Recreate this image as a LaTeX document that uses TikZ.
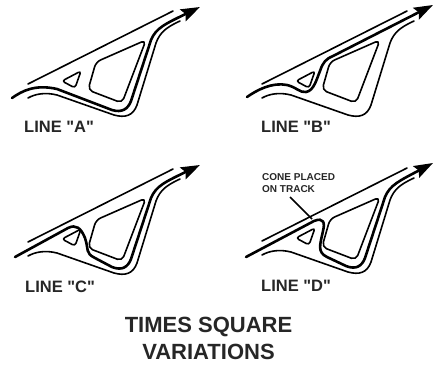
\documentclass[tikz,border=0pt]{standalone}
\usepackage{fontspec}
\newfontfamily\labelfont{Liberation Sans}
\usepackage{tikz}
\usetikzlibrary{arrows.meta}

\begin{document}
\begin{tikzpicture}[x=1pt,y=-1pt,
  every node/.style={inner sep=0pt,font=\labelfont\fontsize{16.5}{18}\selectfont\bfseries,text=black!85},
  edgeline/.style={black,line width=1.6pt,line cap=round,line join=round},
  racingline/.style={black,line width=2.6pt,line cap=round,-{Stealth[length=19pt,width=13pt,inset=3pt]}},
  trackbase/.pic={
    \draw[edgeline] (28,84) -- (173,11);
    \draw[edgeline] (28,98)
      .. controls (35,94) and (45,92) .. (57,95)
      -- (114,115)
      .. controls (125,118) and (133,116) .. (137,105)
      -- (156,43)
      .. controls (160,32) and (167,27) .. (180,21);
    \draw[edgeline,rounded corners=3pt] (62,81) -- (81,71) -- (75,88) -- cycle;
    \draw[edgeline,rounded corners=5pt] (96,62) -- (146,40) -- (122,103) -- (88,90) -- cycle;
  }]
  \useasboundingbox (0,0) rectangle (435,364);
  \pic at (0,0) {trackbase};
  \pic at (234,0) {trackbase};
  \pic at (0,158) {trackbase};
  \pic at (234,157) {trackbase};
  % line A
  \draw[racingline] (12,98)
    .. controls (22,91) and (35,84) .. (57,89)
    -- (112,110)
    .. controls (122,113) and (128,109) .. (131,101)
    -- (151,40)
    .. controls (156,28) and (165,24) .. (200,7);
  % line B
  \begin{scope}[shift={(234,0)}]
    \draw[racingline] (13,97)
      .. controls (23,90) and (38,82) .. (53,85)
      .. controls (62,87) and (66,93) .. (72,92)
      .. controls (80,91) and (83,78) .. (86,71)
      .. controls (89,62) and (92,59) .. (99,56)
      -- (199,5);
  \end{scope}
  % line C
  \begin{scope}[shift={(0,158)}]
    \draw[racingline] (15,99) -- (68,70)
      .. controls (76,66) and (81,70) .. (85,80)
      .. controls (89,92) and (85,95) .. (95,100)
      -- (112,109)
      .. controls (122,113) and (128,109) .. (131,101)
      -- (151,40)
      .. controls (156,28) and (165,24) .. (200,7);
  \end{scope}
  % line D
  \begin{scope}[shift={(234,157)}]
    \draw[racingline] (12,100) -- (80,64)
      .. controls (90,60) and (91,66) .. (89,74)
      .. controls (86,88) and (83,95) .. (93,100)
      -- (112,109)
      .. controls (122,113) and (128,109) .. (131,101)
      -- (151,40)
      .. controls (156,28) and (165,24) .. (199,6);
  \end{scope}
  \node[anchor=west] (labelA) at (24,127) {LINE "A"};
  \node[anchor=west] (labelB) at (261,127) {LINE "B"};
  \node[anchor=west] (labelC) at (25,287) {LINE "C"};
  \node[anchor=west] (labelD) at (261,286) {LINE "D"};
  \node[anchor=west,align=left,font=\labelfont\fontsize{10}{12}\selectfont\bfseries] (conelabel) at (262,183)
    {CONE PLACED\\ON TRACK};
  \coordinate (conetip) at (312,219);
  \draw[black,line width=1.5pt] (290,197) -- (conetip);
  \node[align=center,font=\labelfont\fontsize{22}{27}\selectfont\bfseries] (title) at (208.5,338)
    {TIMES SQUARE\\VARIATIONS};
\end{tikzpicture}
\end{document}
